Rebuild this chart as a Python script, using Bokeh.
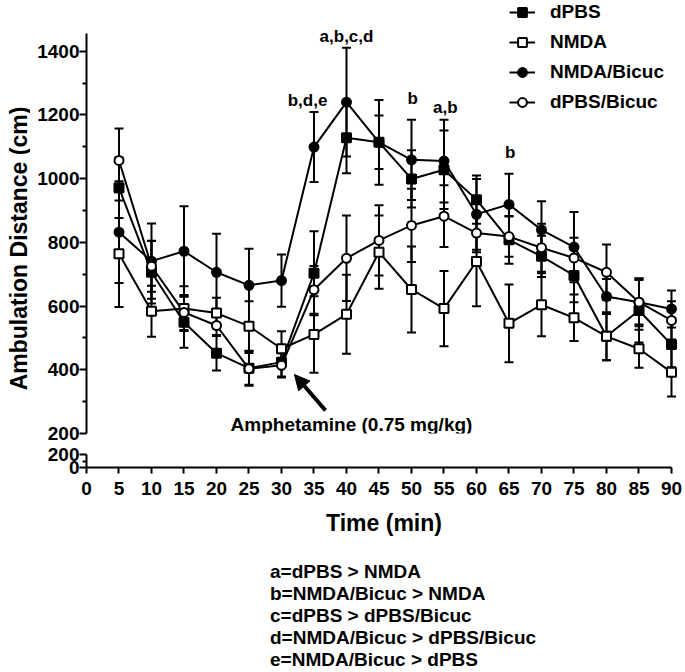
from math import pi
from bokeh.plotting import figure
from bokeh.models import (Range1d, FixedTicker, ColumnDataSource, Whisker, TeeHead,
                          Legend, LegendItem, Label, Arrow, NormalHead)
from bokeh.layouts import column, row
from bokeh.embed import file_html
from bokeh.resources import INLINE
from bokeh.core.properties import value

# ---------------- data ----------------
times = [5, 10, 15, 20, 25, 30, 35, 40, 45, 50, 55, 60, 65, 70, 75, 80, 85, 90]

dpbs = [971, 706, 549, 452, 405, 424, 703, 1128, 1114, 999, 1028, 934, 808, 756, 696, 505, 586, 479]
dpbs_sem = [95, 98, 80, 54, 55, 45, 132, 111, 84, 90, 123, 76, 75, 65, 84, 75, 100, 71]

nmda = [764, 584, 592, 578, 537, 466, 511, 574, 769, 652, 592, 740, 546, 604, 563, 505, 466, 392]
nmda_sem = [167, 80, 70, 48, 78, 55, 120, 124, 115, 135, 118, 141, 122, 99, 73, 75, 60, 76]

nmda_bicuc = [832, 741, 772, 706, 665, 680, 1099, 1240, 1114, 1059, 1055, 888, 919, 839, 785, 630, 612, 591]
nmda_bicuc_sem = [160, 118, 141, 121, 115, 82, 110, 171, 133, 126, 130, 111, 96, 90, 110, 55, 70, 58]

dpbs_bicuc = [1057, 725, 580, 539, 403, 414, 651, 750, 806, 853, 882, 829, 818, 783, 751, 706, 612, 555]
dpbs_bicuc_sem = [100, 80, 55, 30, 50, 38, 75, 134, 110, 115, 97, 60, 63, 75, 63, 87, 75, 60]

series_names = ["dPBS", "NMDA", "NMDA/Bicuc", "dPBS/Bicuc"]

x_ticks = list(range(0, 95, 5))
y_ticks_upper = [200, 400, 600, 800, 1000, 1200, 1400]
y_minor_upper = [300, 500, 700, 900, 1100, 1300]
y_ticks_lower = [0, 200]
y_minor_lower = [100]

sig_text = ["b,d,e", "a,b,c,d", "b", "a,b", "b"]
sig_t = [34.0, 40.0, 50.2, 55.2, 65.2]
sig_y = [1245, 1446, 1251, 1224, 1083]

footnotes = ["a=dPBS > NMDA", "b=NMDA/Bicuc > NMDA", "c=dPBS > dPBS/Bicuc",
             "d=NMDA/Bicuc > dPBS/Bicuc", "e=NMDA/Bicuc > dPBS"]

FONT = "Liberation Sans"


def style_axis(ax, tick_out=7):
    ax.axis_line_width = 2
    ax.axis_line_color = "black"
    ax.major_tick_line_width = 2
    ax.major_tick_line_color = "black"
    ax.minor_tick_line_width = 2
    ax.minor_tick_line_color = "black"
    ax.major_tick_out = tick_out
    ax.major_tick_in = 0
    ax.minor_tick_out = 4
    ax.minor_tick_in = 0
    ax.major_label_text_font = FONT
    ax.major_label_text_font_style = "bold"
    ax.major_label_text_font_size = "19px"
    ax.major_label_text_color = "black"


def blank_fig(w, h, xr, yr):
    f = figure(width=w, height=h, x_range=xr, y_range=yr, output_backend="svg",
               toolbar_location=None, x_axis_location=None, y_axis_location=None,
               min_border=0, min_border_left=0, min_border_right=0,
               min_border_top=0, min_border_bottom=0)
    f.outline_line_color = None
    f.grid.grid_line_color = None
    return f


# ---------------- y-axis title strip ----------------
ylab = blank_fig(30, 670, Range1d(0, 30), Range1d(670, 0))
ylab.add_layout(Label(x=18, y=248, text="Ambulation Distance (cm)", text_font=FONT,
                      text_font_style="bold", text_font_size="23px", text_align="center",
                      text_baseline="middle", angle=pi / 2, text_color="black"))

# ---------------- upper panel ----------------
x_range = Range1d(0, 91.54)
top = figure(width=655, height=443, x_range=x_range, y_range=Range1d(200, 1559),
             output_backend="svg", toolbar_location=None, x_axis_location=None,
             min_border_left=56, min_border_right=4, min_border_top=0, min_border_bottom=10)
top.outline_line_color = None
top.grid.grid_line_color = None

ya = top.yaxis[0]
ya.ticker = FixedTicker(ticks=y_ticks_upper, minor_ticks=y_minor_upper)
ya.bounds = (200, 1455)
style_axis(ya)
ya.major_label_standoff = 0

styles = [
    (dpbs, dpbs_sem, "square", "black"),
    (nmda, nmda_sem, "square", "white"),
    (nmda_bicuc, nmda_bicuc_sem, "circle", "black"),
    (dpbs_bicuc, dpbs_bicuc_sem, "circle", "white"),
]

line_renderers = []
marker_renderers = []
for vals, sem, marker, fill in styles:
    src = ColumnDataSource(dict(t=times, v=vals,
                                up=[a + b for a, b in zip(vals, sem)],
                                lo=[a - b for a, b in zip(vals, sem)]))
    w = Whisker(source=src, base="t", upper="up", lower="lo", line_width=2,
                line_color="black", level="underlay",
                upper_head=TeeHead(size=9, line_width=2, line_color="black"),
                lower_head=TeeHead(size=9, line_width=2, line_color="black"))
    top.add_layout(w)
    lr = top.line("t", "v", source=src, line_width=2, line_color="black")
    line_renderers.append((lr, src, marker, fill))

for lr, src, marker, fill in line_renderers:
    mr = top.scatter("t", "v", source=src, marker=marker, size=9, fill_color=fill,
                     line_color="black", line_width=2)
    marker_renderers.append(mr)

items = [LegendItem(label=name, renderers=[lr[0], mr])
         for name, lr, mr in zip(series_names, line_renderers, marker_renderers)]
legend = Legend(items=items, location=(423, 320), padding=0, margin=0, spacing=8,
                glyph_width=26, glyph_height=22, label_height=22, label_standoff=15,
                label_text_font=FONT, label_text_font_style="bold",
                label_text_font_size="19px", label_text_color="black",
                background_fill_alpha=0, border_line_color=None)
top.add_layout(legend)

top.text(x=sig_t, y=sig_y, text=sig_text, text_font=value(FONT), text_font_style="bold",
         text_font_size="17px", text_align="center", text_baseline="middle",
         text_color="black")

top.add_layout(Arrow(end=NormalHead(size=15, fill_color="black", line_color="black"),
                     x_start=36.77, y_start=272, x_end=32.0, y_end=385,
                     line_width=4, line_color="black"))
top.add_layout(Label(x=40.77, y=228, text="Amphetamine (0.75 mg/kg)", text_font=FONT,
                     text_font_style="bold", text_font_size="19px", text_align="center",
                     text_baseline="middle", text_color="black"))

# ---------------- lower panel (broken axis segment + x axis) ----------------
bot = figure(width=655, height=110, x_range=x_range, y_range=Range1d(0, 200),
             output_backend="svg", toolbar_location=None,
             min_border_left=56, min_border_right=4, min_border_top=11, min_border_bottom=86)
bot.outline_line_color = None
bot.grid.grid_line_color = None

xa = bot.xaxis[0]
xa.ticker = FixedTicker(ticks=x_ticks, minor_ticks=[])
xa.bounds = (0, 90)
style_axis(xa, tick_out=6)
xa.axis_label = "Time (min)"
xa.axis_label_text_font = FONT
xa.axis_label_text_font_style = "bold"
xa.axis_label_text_font_size = "23px"
xa.axis_label_text_color = "black"
xa.axis_label_standoff = 12
xa.major_label_standoff = 8

yb = bot.yaxis[0]
yb.ticker = FixedTicker(ticks=y_ticks_lower, minor_ticks=y_minor_lower)
yb.bounds = (0, 200)
style_axis(yb)
yb.major_label_standoff = 0

# ---------------- footnotes ----------------
notes = blank_fig(655, 117, Range1d(30, 685), Range1d(670, 553))
foot_y = [571, 593, 615, 637, 659]
for txt, yy in zip(footnotes, foot_y):
    notes.add_layout(Label(x=232, y=yy, text=txt, text_font=FONT, text_font_style="bold",
                           text_font_size="19px", text_align="left", text_baseline="middle",
                           text_color="black"))

layout = row(ylab, column(top, bot, notes, spacing=0), spacing=0)
open("out.html", "w").write(file_html(layout, INLINE))
